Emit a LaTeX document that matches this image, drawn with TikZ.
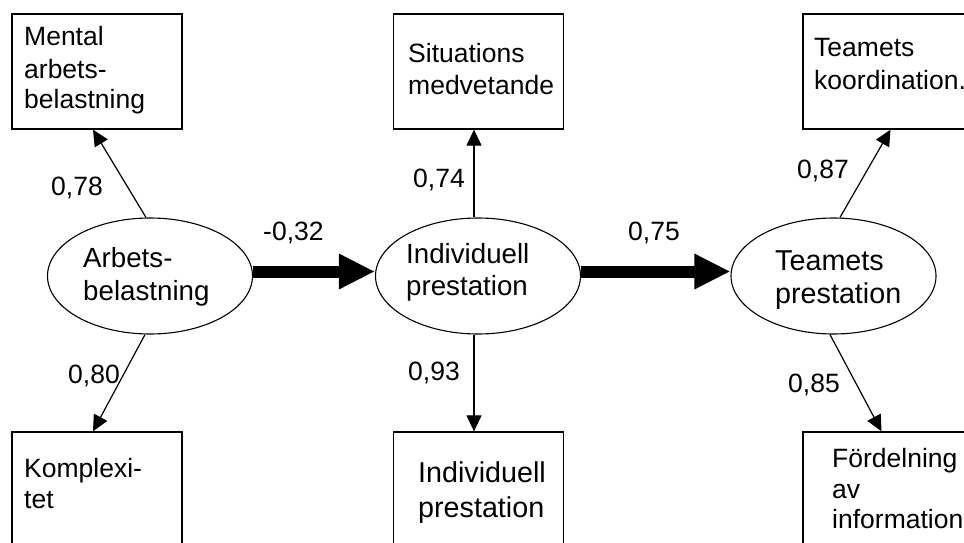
\documentclass[tikz,border=0pt]{standalone}
\usepackage{fontspec}
\setmainfont{Liberation Sans}
\usetikzlibrary{shapes.geometric,arrows.meta}
\begin{document}
\begin{tikzpicture}[x=1pt,y=-1pt,
  box/.style={draw,line width=1.3pt,rectangle,minimum width=170pt,minimum height=115pt,inner sep=0pt},
  oval/.style={draw,line width=1.1pt,ellipse,minimum width=205pt,minimum height=116pt,inner sep=0pt},
  thinarrow/.style={line width=1.2pt,-{Triangle[length=16pt,width=15pt]}},
  thickarrow/.style={line width=12pt,-{Triangle[length=36pt,width=33pt]}},
  txt/.style={anchor=base west,inner sep=0pt,font=\fontsize{26.5}{31}\selectfont},
  midtxt/.style={txt,font=\fontsize{27.7}{32}\selectfont},
  bigtxt/.style={txt,font=\fontsize{28.7}{33}\selectfont}]
\useasboundingbox (0,0) rectangle (964,543);
\clip (0,0) rectangle (964,543);
% boxes
\node[box] (b1) at (97,71.5) {};
\node[box] (b2) at (478.5,71.5) {};
\node[box] (b3) at (888,71.5) {};
\node[box] (b4) at (97,489.5) {};
\node[box] (b5) at (478.5,489.5) {};
\node[box] (b6) at (888,489.5) {};
% ellipses
\node[oval] (e1) at (150,276) {};
\node[oval] (e2) at (478,276) {};
\node[oval] (e3) at (833.5,276) {};
% thin arrows
\draw[thinarrow] ([xshift=-4pt]e1.north) -- ([xshift=-4pt]b1.south);
\draw[thinarrow] ([xshift=-5pt]e1.south) -- ([xshift=-4pt]b4.north);
\draw[thinarrow] ([xshift=-4pt]e2.north) -- ([xshift=-4.5pt]b2.south);
\draw[thinarrow] ([xshift=-4pt]e2.south) -- ([xshift=-4.5pt]b5.north);
\draw[thinarrow] ([xshift=6.5pt]e3.north) -- ([xshift=2.5pt]b3.south);
\draw[thinarrow] ([xshift=-3.5pt]e3.south) -- ([xshift=-6.5pt]b6.north);
% thick arrows
\draw[thickarrow] ([yshift=4.5pt]e1.east) -- ([yshift=4.5pt]e2.west);
\draw[thickarrow] ([yshift=4.5pt]e2.east) -- ([yshift=4.5pt]e3.west);
% box texts
\node[txt] (t1a) at (24,46) {Mental};
\node[txt] (t1b) at (24,78) {arbets-};
\node[txt] (t1c) at (24,108) {belastning};
\node[txt] (t2a) at (408,63) {Situations};
\node[txt] (t2b) at (408,94) {medvetande};
\node[txt] (t3a) at (814,57) {Teamets};
\node[txt] (t3b) at (814,89) {koordination.};
\node[txt] (t4a) at (24,477) {Komplexi-};
\node[txt] (t4b) at (24,508) {tet};
\node[bigtxt] (t5a) at (418,482) {Individuell};
\node[bigtxt] (t5b) at (418,517) {prestation};
\node[txt] (t6a) at (832,467) {Fördelning};
\node[txt] (t6b) at (832,498) {av};
\node[txt] (t6c) at (832,528) {information};
% ellipse texts
\node[midtxt] (u1a) at (83,267) {Arbets-};
\node[midtxt] (u1b) at (83,300) {belastning};
\node[midtxt] (u2a) at (406,263) {Individuell};
\node[midtxt] (u2b) at (406,295) {prestation};
\node[bigtxt] (u3a) at (775,270) {Teamets};
\node[bigtxt] (u3b) at (775,303) {prestation};
% coefficients
\node[txt] (c1) at (51,195) {0,78};
\node[txt] (c2) at (68,383) {0,80};
\node[txt] (c3) at (413,187) {0,74};
\node[txt] (c4) at (408,380) {0,93};
\node[txt] (c5) at (263,240) {-0,32};
\node[txt] (c6) at (628,240) {0,75};
\node[txt] (c7) at (797,178) {0,87};
\node[txt] (c8) at (788,392) {0,85};
\end{tikzpicture}
\end{document}
